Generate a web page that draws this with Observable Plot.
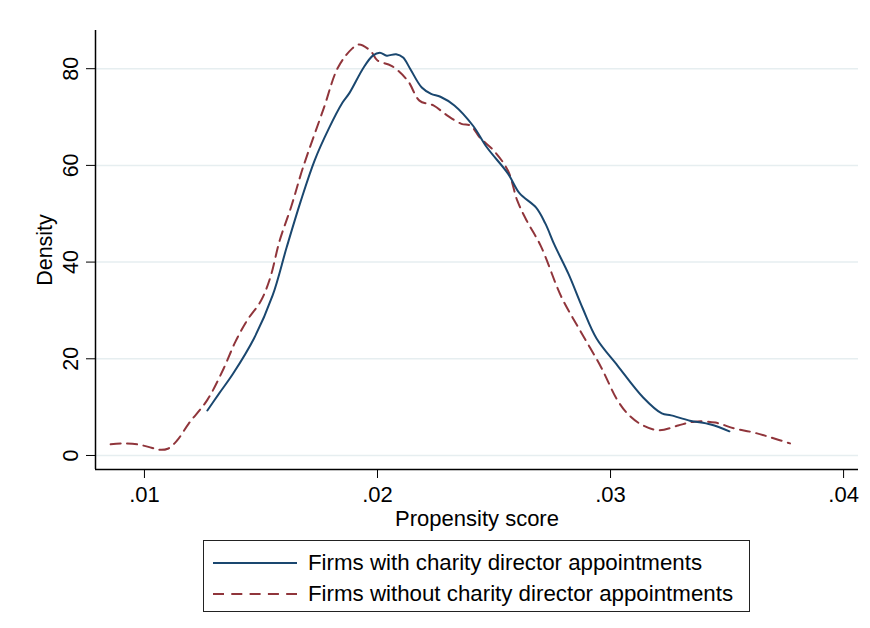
<!DOCTYPE html>
<html>
<head>
<meta charset="utf-8">
<script src="https://cdn.jsdelivr.net/npm/d3@7"></script>
<script src="https://cdn.jsdelivr.net/npm/@observablehq/plot@0.6"></script>
<style>
  body { margin: 0; background: #fff; font-family: "Liberation Sans", Arial, sans-serif; }
  #wrap { position: relative; width: 870px; height: 628px; }
  #legend { position: absolute; left: 203px; top: 540px; width: 547px; height: 72px; border: 1px solid #222; box-sizing: border-box; }
  .row { position: absolute; left: 0; height: 30px; display: flex; align-items: center; }
  .row svg { margin-left: 9px; margin-right: 11px; }
  .row span { font-size: 22.3px; color: #000; white-space: nowrap; }
</style>
</head>
<body>
<div id="wrap">
  <div id="chart"></div>
  <div id="legend">
    <div class="row" style="top:7px"><svg width="84" height="4"><line x1="0" y1="2" x2="84" y2="2" stroke="#1a476f" stroke-width="2"/></svg><span>Firms with charity director appointments</span></div>
    <div class="row" style="top:38px"><svg width="84" height="4"><line x1="0" y1="2" x2="84" y2="2" stroke="#90353b" stroke-width="2" stroke-dasharray="11,7.3"/></svg><span>Firms without charity director appointments</span></div>
  </div>
</div>
<script>
// Firms with charity director appointments (kernel density)
const withX = [0.0127,0.0132,0.0138,0.0147,0.0155,0.0161,0.0167,0.0173,0.0179,0.0185,0.0188,0.0194,0.0198,0.0201,0.0204,0.0208,0.0211,0.0214,0.0219,0.0223,0.0227,0.0233,0.0241,0.0247,0.0256,0.0261,0.0268,0.0272,0.0276,0.0282,0.0288,0.0294,0.0303,0.0314,0.0322,0.0326,0.0334,0.0343,0.0351];
const withY = [9.3,12.8,16.9,24.2,33.1,43.0,52.5,61.0,67.5,73.0,75.0,80.2,82.7,83.3,82.7,83.0,82.3,80.0,76.1,74.8,74.2,72.4,68.2,63.7,58.3,54.2,51.3,48.0,43.5,37.5,30.5,24.2,18.6,12.0,8.7,8.3,7.2,6.4,5.0];

// Firms without charity director appointments (kernel density)
const withoutX = [0.00855,0.0090,0.0097,0.0103,0.0106,0.0110,0.0114,0.0119,0.0127,0.0134,0.0139,0.0144,0.0150,0.0154,0.0158,0.0163,0.0168,0.0177,0.0183,0.0189,0.0192,0.0197,0.0200,0.0206,0.0213,0.0218,0.0224,0.0230,0.0236,0.0240,0.0244,0.0250,0.0256,0.0260,0.0264,0.0270,0.0279,0.0287,0.0296,0.0303,0.0308,0.0314,0.0321,0.0329,0.0336,0.0345,0.0353,0.0361,0.0369,0.0377];
const withoutY = [2.3,2.5,2.3,1.6,1.2,1.4,3.1,6.6,11.5,18.0,23.5,27.9,32.0,36.8,44.4,51.5,59.5,71.9,80.2,84.1,85.0,83.7,81.7,80.6,77.5,73.4,72.4,70.3,68.6,68.2,65.7,63.0,58.9,52.7,48.6,43.4,32.7,25.8,18.2,11.4,8.3,6.2,5.2,6.2,7.0,6.8,5.6,4.8,3.7,2.5];

const xTicks = [0.01, 0.02, 0.03, 0.04];
const yTicks = [0, 20, 40, 60, 80];

const withData = withX.map((x, i) => ({x, y: withY[i]}));
const withoutData = withoutX.map((x, i) => ({x, y: withoutY[i]}));

const xMin = 0.0079, xMax = 0.04064, yMin = -2.9, yMax = 87.9;

const chart = Plot.plot({
  width: 870,
  height: 535,
  marginLeft: 95,
  marginRight: 12,
  marginTop: 30,
  marginBottom: 66,
  style: {fontFamily: "'Liberation Sans', Arial, sans-serif", color: "#000", background: "#fff"},
  x: {domain: [xMin, xMax]},
  y: {domain: [yMin, yMax]},
  marks: [
    Plot.gridY(yTicks, {stroke: "#e6eef0", strokeOpacity: 1, strokeWidth: 1.5}),
    Plot.axisY(yTicks, {
      tickRotate: -90, tickSize: 9, tickPadding: 9, fontSize: 21.5,
      label: "Density", labelAnchor: "center", labelArrow: "none", labelOffset: 59,
      stroke: "#000"
    }),
    Plot.axisX(xTicks, {
      tickSize: 9, tickPadding: 8, fontSize: 22,
      tickFormat: d => d3.format(".2f")(d).replace(/^0/, ""),
      label: "Propensity score", labelAnchor: "center", labelArrow: "none", labelOffset: 56,
      stroke: "#000"
    }),
    Plot.ruleX([xMin], {stroke: "#000", strokeWidth: 1.5}),
    Plot.ruleY([yMin], {stroke: "#000", strokeWidth: 1.5}),
    Plot.line(withoutData, {x: "x", y: "y", stroke: "#90353b", strokeWidth: 2, strokeDasharray: "10,6.5", curve: "catmull-rom"}),
    Plot.line(withData, {x: "x", y: "y", stroke: "#1a476f", strokeWidth: 2, curve: "catmull-rom"})
  ]
});
document.getElementById("chart").appendChild(chart);
</script>
</body>
</html>
